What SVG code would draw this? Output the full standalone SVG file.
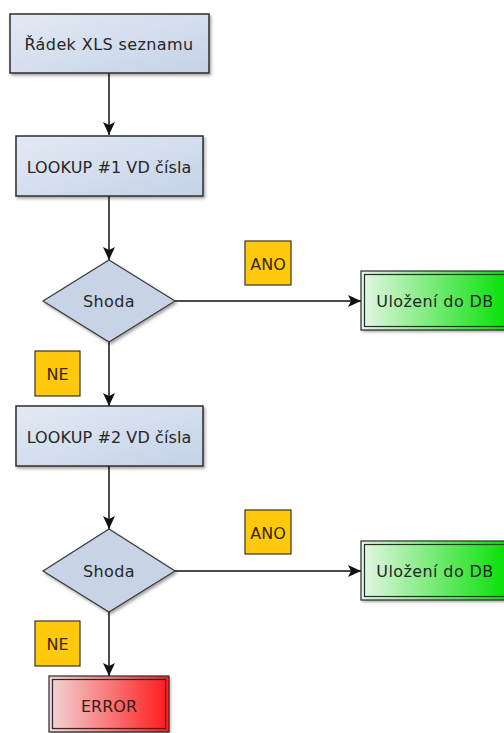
<svg xmlns="http://www.w3.org/2000/svg" width="504" height="733" viewBox="0 0 504 733">
  <defs>
    <linearGradient id="gBlue" x1="0" y1="0" x2="1" y2="1">
      <stop offset="0" stop-color="#e4eaf4"/>
      <stop offset="1" stop-color="#c4d2e7"/>
    </linearGradient>
    <linearGradient id="gGreen" x1="0" y1="0" x2="1" y2="0">
      <stop offset="0" stop-color="#e6f6e6"/>
      <stop offset="1" stop-color="#00e000"/>
    </linearGradient>
    <linearGradient id="gRed" x1="0" y1="0" x2="1" y2="0">
      <stop offset="0" stop-color="#f2d6d8"/>
      <stop offset="1" stop-color="#ff1a1a"/>
    </linearGradient>
    <filter id="shadow" x="-10%" y="-10%" width="130%" height="140%">
      <feDropShadow dx="1.5" dy="2" stdDeviation="1.5" flood-color="#000" flood-opacity="0.35"/>
    </filter>
    <marker id="arrow" markerUnits="userSpaceOnUse" markerWidth="14" markerHeight="12" refX="13" refY="6" orient="auto">
      <path d="M0,0 L13,6 L0,12 L3,6 z" fill="#111"/>
    </marker>
  </defs>
  <style>
    .proc { fill: url(#gBlue); stroke: #2e2e2e; stroke-width: 1.5; filter: url(#shadow); }
    .dec { fill: #c8d4e6; stroke: #3a3a3a; stroke-width: 1.2; filter: url(#shadow); }
    .tag { fill: #ffc90e; stroke: #3a3228; stroke-width: 1.2; }
    .ok { fill: url(#gGreen); }
    .err { fill: url(#gRed); }
    .frame { fill: none; stroke: #2a2a2a; stroke-width: 1.2; }
    .edge { fill: none; stroke: #111; stroke-width: 1.5; marker-end: url(#arrow); }
    text { font-family: "DejaVu Sans", "Noto Sans", sans-serif; font-size: 16px; letter-spacing: 0.4px; fill: #262626; text-anchor: middle; dominant-baseline: central; }
    .tagtxt { fill: #3a2600; letter-spacing: 0; }
  </style>

  <g id="connectors">
    <line class="edge" x1="109" y1="73" x2="109" y2="135"/>
    <line class="edge" x1="109" y1="196" x2="109" y2="260"/>
    <line class="edge" x1="175" y1="301" x2="361" y2="301"/>
    <line class="edge" x1="109" y1="342" x2="109" y2="406"/>
    <line class="edge" x1="109" y1="466" x2="109" y2="529"/>
    <line class="edge" x1="175" y1="571" x2="361" y2="571"/>
    <line class="edge" x1="109" y1="612" x2="109" y2="676"/>
  </g>

  <g id="radek">
    <rect class="proc" x="10" y="14" width="199" height="59"/>
    <text x="109" y="44">Řádek XLS seznamu</text>
  </g>

  <g id="lookup1">
    <rect class="proc" x="16" y="136" width="187" height="60"/>
    <text x="109" y="167" style="letter-spacing:0.1px">LOOKUP #1 VD čísla</text>
  </g>

  <g id="shoda1">
    <polygon class="dec" points="109,260 175,301 109,342 43,301"/>
    <text x="109" y="301">Shoda</text>
  </g>

  <g id="ano1">
    <rect class="tag" x="245" y="241" width="46" height="44"/>
    <text class="tagtxt" x="268" y="264">ANO</text>
  </g>

  <g id="ulozeni1">
    <rect class="ok" x="361" y="271" width="150" height="59" filter="url(#shadow)"/>
    <rect class="frame" x="361" y="271" width="150" height="59"/>
    <rect class="frame" x="364.5" y="274.5" width="150" height="52"/>
    <text x="435" y="301">Uložení do DB</text>
  </g>

  <g id="ne1">
    <rect class="tag" x="35" y="351" width="45" height="45"/>
    <text class="tagtxt" x="57.5" y="374">NE</text>
  </g>

  <g id="lookup2">
    <rect class="proc" x="16" y="406" width="187" height="60"/>
    <text x="109" y="437" style="letter-spacing:0.1px">LOOKUP #2 VD čísla</text>
  </g>

  <g id="shoda2">
    <polygon class="dec" points="109,529 175,571 109,612 43,571"/>
    <text x="109" y="571">Shoda</text>
  </g>

  <g id="ano2">
    <rect class="tag" x="245" y="510" width="46" height="44"/>
    <text class="tagtxt" x="268" y="533">ANO</text>
  </g>

  <g id="ulozeni2">
    <rect class="ok" x="361" y="541" width="150" height="59" filter="url(#shadow)"/>
    <rect class="frame" x="361" y="541" width="150" height="59"/>
    <rect class="frame" x="364.5" y="544.5" width="150" height="52"/>
    <text x="435" y="571">Uložení do DB</text>
  </g>

  <g id="ne2">
    <rect class="tag" x="35" y="621" width="45" height="45"/>
    <text class="tagtxt" x="57.5" y="644">NE</text>
  </g>

  <g id="error">
    <rect class="err" x="49" y="676" width="120" height="56" filter="url(#shadow)"/>
    <rect class="frame" x="49" y="676" width="120" height="56"/>
    <rect class="frame" x="52.5" y="679.5" width="113" height="49"/>
    <text x="109" y="706" style="fill:#3a1a1a;letter-spacing:0">ERROR</text>
  </g>
</svg>
